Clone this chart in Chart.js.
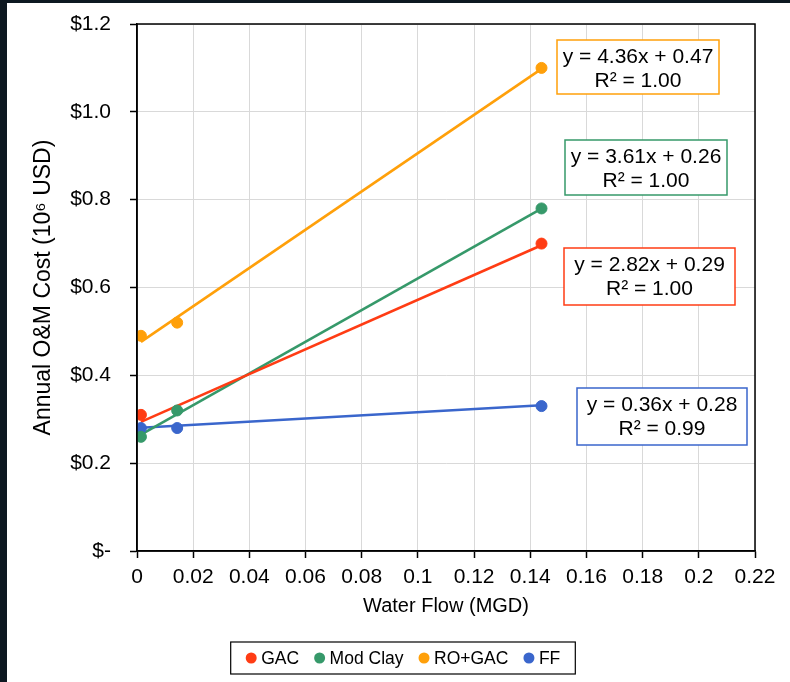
<!DOCTYPE html>
<html><head><meta charset="utf-8">
<script src="https://cdn.jsdelivr.net/npm/chart.js@4.4.1/dist/chart.umd.min.js"></script>
<style>html,body{margin:0;padding:0;background:#0d1821;overflow:hidden}canvas{display:block}</style>
</head><body>
<canvas id="c" width="790" height="682" style="width:790px;height:682px"></canvas>
<script>
// ---- data ----
const seriesNames  = ['GAC', 'Mod Clay', 'RO+GAC', 'FF'];
const seriesColors = ['#FF3C14', '#36996A', '#FFA00A', '#3A66CC'];
const gacX  = [0.0014, 0.144];
const gacY  = [0.31, 0.70];
const clayX = [0.0014, 0.0143, 0.144];
const clayY = [0.26, 0.32, 0.78];
const roX   = [0.0014, 0.0143, 0.144];
const roY   = [0.49, 0.52, 1.10];
const ffX   = [0.0014, 0.0143, 0.144];
const ffY   = [0.28, 0.28, 0.33];
const slopes     = [2.82, 3.61, 4.36, 0.36];
const intercepts = [0.29, 0.26, 0.47, 0.28];
const eqLabels = ['y = 2.82x + 0.29', 'y = 3.61x + 0.26', 'y = 4.36x + 0.47', 'y = 0.36x + 0.28'];
const r2Labels = ['R\u00B2 = 1.00', 'R\u00B2 = 1.00', 'R\u00B2 = 1.00', 'R\u00B2 = 0.99'];
const xTickLabels = ['0','0.02','0.04','0.06','0.08','0.1','0.12','0.14','0.16','0.18','0.2','0.22'];
const yTickLabels = ['$-','$0.2','$0.4','$0.6','$0.8','$1.0','$1.2'];
const xTitle = 'Water Flow (MGD)';
const yTitle = 'Annual O&M Cost (10\u2076 USD)';

const FONT = "'Liberation Sans', Arial, sans-serif";
const allX = [gacX, clayX, roX, ffX];
const allY = [gacY, clayY, roY, ffY];

const datasets = [];
seriesNames.forEach((name, i) => {
  datasets.push({
    label: name,
    data: allX[i].map((x, k) => ({x: x, y: allY[i][k]})),
    showLine: false,
    pointRadius: 5.5,
    pointHoverRadius: 5.5,
    pointBorderWidth: 1,
    backgroundColor: seriesColors[i],
    borderColor: seriesColors[i],
    order: 0,
    isMarker: true
  });
});
seriesNames.forEach((name, i) => {
  const xs = allX[i];
  const x0 = xs[0], x1 = xs[xs.length - 1];
  datasets.push({
    label: name + ' trend',
    data: [{x: x0, y: intercepts[i] + slopes[i] * x0}, {x: x1, y: intercepts[i] + slopes[i] * x1}],
    showLine: true,
    pointRadius: 0,
    borderWidth: 2.6,
    borderColor: seriesColors[i],
    backgroundColor: seriesColors[i],
    order: 1,
    isMarker: false
  });
});

// ---- layout of text boxes (pixels) ----
const eqBoxes = [
  {l: 564, t: 248, r: 735, b: 305},
  {l: 565, t: 140, r: 727, b: 195},
  {l: 557, t: 40,  r: 719, b: 94},
  {l: 577, t: 388, r: 747, b: 445}
];

const framePlugin = {
  id: 'frame',
  beforeDraw(chart) {
    const ctx = chart.ctx;
    ctx.save();
    ctx.fillStyle = '#0d1821';
    ctx.fillRect(0, 0, chart.width, chart.height);
    ctx.fillStyle = '#ffffff';
    ctx.fillRect(7, 3, chart.width - 7, chart.height - 3);
    ctx.restore();
  },
  afterDatasetsDraw(chart) {
    const ctx = chart.ctx;
    const a = chart.chartArea;
    ctx.save();
    ctx.strokeStyle = '#000';
    ctx.lineWidth = 1.5;
    ctx.strokeRect(a.left, a.top, a.right - a.left, a.bottom - a.top);
    // equation boxes
    ctx.font = '21px ' + FONT;
    ctx.textAlign = 'center';
    ctx.textBaseline = 'middle';
    eqBoxes.forEach((bx, i) => {
      ctx.fillStyle = '#fff';
      ctx.fillRect(bx.l, bx.t, bx.r - bx.l, bx.b - bx.t);
      ctx.strokeStyle = seriesColors[i];
      ctx.lineWidth = 1.5;
      ctx.strokeRect(bx.l, bx.t, bx.r - bx.l, bx.b - bx.t);
      ctx.fillStyle = '#000';
      const cx = (bx.l + bx.r) / 2;
      ctx.fillText(eqLabels[i], cx, bx.t + 17);
      ctx.fillText(r2Labels[i], cx, bx.t + 41);
    });
    // legend
    const items = chart.data.datasets.filter(d => d.isMarker);
    ctx.font = '17.5px ' + FONT;
    ctx.textAlign = 'left';
    const dotR = 5.5, gap = 4.5, spacing = 15, pad = 15;
    const widths = items.map(d => 2 * dotR + gap + ctx.measureText(d.label).width);
    const total = widths.reduce((s, w) => s + w, 0) + spacing * (items.length - 1);
    const cxL = 403, cyL = 658;
    let x = cxL - total / 2;
    ctx.strokeStyle = '#000';
    ctx.lineWidth = 1.2;
    ctx.strokeRect(x - pad, cyL - 16, total + 2 * pad, 32);
    items.forEach((d, i) => {
      ctx.fillStyle = d.backgroundColor;
      ctx.beginPath();
      ctx.arc(x + dotR, cyL, dotR, 0, Math.PI * 2);
      ctx.fill();
      ctx.fillStyle = '#000';
      ctx.fillText(d.label, x + 2 * dotR + gap, cyL + 1);
      x += widths[i] + spacing;
    });
    ctx.restore();
  }
};

new Chart(document.getElementById('c'), {
  type: 'scatter',
  data: {datasets: datasets},
  options: {
    responsive: false,
    animation: false,
    devicePixelRatio: 1,
    layout: {padding: {left: 0, top: 24, right: 35, bottom: 46}},
    plugins: {legend: {display: false}, tooltip: {enabled: false}},
    scales: {
      x: {
        type: 'linear', min: 0, max: 0.22,
        afterFit: s => { s.height = 85; },
        ticks: {
          stepSize: 0.02, color: '#000', padding: 7, maxRotation: 0, autoSkip: false,
          font: {family: FONT, size: 21},
          callback: v => xTickLabels[Math.round(v / 0.02)]
        },
        grid: {color: '#D9D9D9', lineWidth: 1, tickColor: '#000', tickLength: 7, tickWidth: 1.5},
        border: {color: '#000', width: 1.5},
        title: {display: true, text: xTitle, color: '#000', font: {family: FONT, size: 20}, padding: {top: 0, bottom: 18}}
      },
      y: {
        type: 'linear', min: 0, max: 1.2,
        afterFit: s => { s.width = 137; s.paddingTop = 0; s.paddingBottom = 0; },
        ticks: {
          stepSize: 0.2, color: '#000', padding: 19,
          font: {family: FONT, size: 21},
          callback: v => yTickLabels[Math.round(v / 0.2)]
        },
        grid: {color: '#D9D9D9', lineWidth: 1, tickColor: '#000', tickLength: 7, tickWidth: 1.5},
        border: {color: '#000', width: 1.5},
        title: {display: true, text: yTitle, color: '#000', font: {family: FONT, size: 23}, padding: {top: 30, bottom: 0}}
      }
    }
  },
  plugins: [framePlugin]
});
</script>
</body></html>
